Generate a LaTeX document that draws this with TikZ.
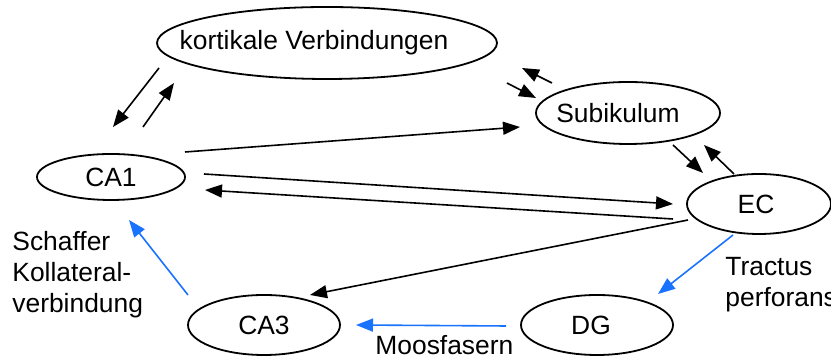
\documentclass[tikz,border=0pt]{standalone}
\usepackage{fontspec}
\setmainfont{Liberation Sans}
\usetikzlibrary{shapes.geometric,arrows.meta,calc}
\definecolor{linkblue}{RGB}{26,115,255}
\newcommand{\ctext}[2][0pt]{\makebox[0pt][c]{#2\kern#1}}
\begin{document}
\begin{tikzpicture}[x=0.5pt,y=-0.5pt,
  region/.style={ellipse,draw,line width=0.9pt,inner sep=0pt,font=\fontsize{13.2}{15.5}\selectfont},
  arr/.style={-{Triangle[length=8.5pt,width=6.5pt]},line width=0.8pt},
  blu/.style={arr,color=linkblue},
  lbl/.style={inner sep=0pt,align=left,anchor=north west,font=\fontsize{13.2}{15.4}\selectfont}]
\clip (0,0) rectangle (831,356);
\node[region,minimum width=170pt,minimum height=36pt] (kort) at (327,43) {\ctext[13pt]{kortikale Verbindungen}};
\node[region,minimum width=92pt,minimum height=31pt] (sub) at (628,113) {\ctext[10pt]{Subikulum}};
\node[region,minimum width=72pt,minimum height=30pt] (ec) at (759,204) {\ctext[3pt]{EC}};
\node[region,minimum width=74pt,minimum height=23pt] (ca1) at (111,177) {\ctext{CA1}};
\node[region,minimum width=76pt,minimum height=30pt] (ca3) at (264,325) {\ctext{CA3}};
\node[region,minimum width=76pt,minimum height=30pt] (dg) at (597,325) {\ctext[6pt]{DG}};
% black connectors
\draw[arr] ($(kort)+(-168,25)$) -- ($(ca1)+(2,-50)$);
\draw[arr] ($(ca1)+(32,-50)$) -- ($(kort)+(-153,40)$);
\draw[arr] ($(ca1)+(74,-25)$) -- ($(sub)+(-108,14)$);
\draw[arr] ($(sub)+(-76,-30)$) -- ($(kort)+(195,25)$);
\draw[arr] ($(kort)+(180,40)$) -- ($(sub)+(-92,-15)$);
\draw[arr] ($(sub)+(45,32)$) -- ($(ec)+(-56,-31)$);
\draw[arr] ($(ec)+(-25,-30)$) -- ($(sub)+(76,32)$);
\draw[arr] ($(ca1)+(93,-3)$) -- ($(ec)+(-86,0)$);
\draw[arr] ($(ec)+(-86,15)$) -- ($(ca1)+(94,13)$);
\draw[arr] ($(ec)+(-71,16)$) -- ($(ca3)+(46,-30)$);
% blue connectors
\draw[blu] ($(ec)+(-26,31)$) -- ($(dg)+(61,-31)$);
\draw[blu] ($(dg)+(-91,1)$) -- ($(ca3)+(92,0)$);
\draw[blu] ($(ca3)+(-76,-30)$) -- ($(ca1)+(18,43)$);
% labels
\node[lbl] (schaffer) at (12,231) {Schaffer\\Kollateral-\\verbindung};
\node[lbl] (tractus) at (725,257) {Tractus\\perforans};
\node[lbl] (moos) at (375,335) {Moosfasern};
\end{tikzpicture}
\end{document}
